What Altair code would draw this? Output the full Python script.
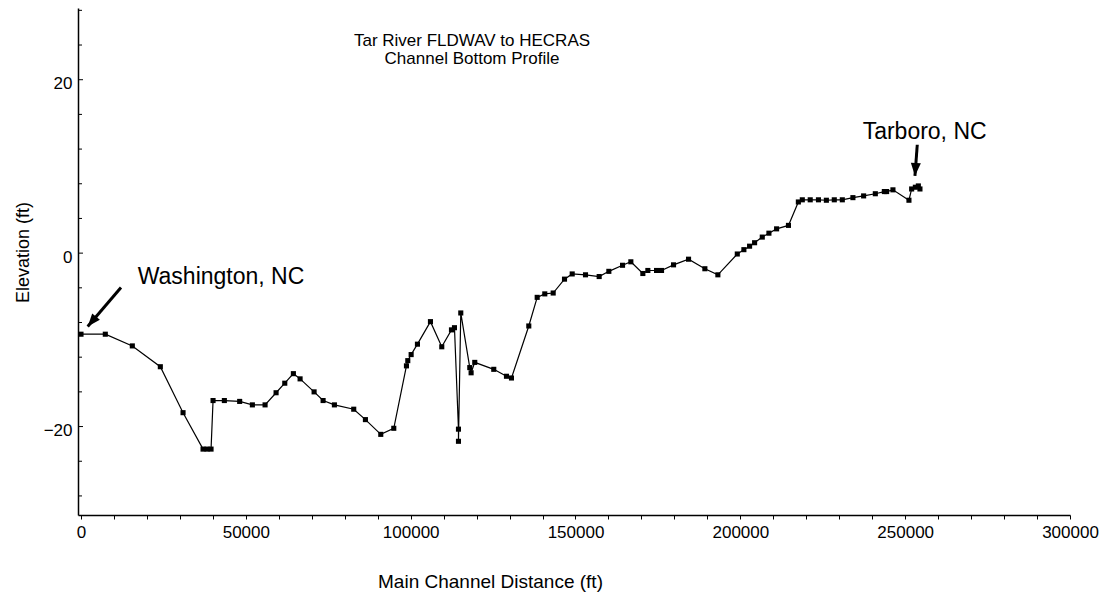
import altair as alt
import pandas as pd

# Channel bottom profile, Tar River (FLDWAV cross sections carried into HEC-RAS)
distance_ft = [
    0, 7374, 15568, 24065, 30954, 37022, 38236, 39450, 40057, 43487,
    48130, 51984, 55837, 59175, 61810, 64425, 66459, 70707, 73438, 76869,
    82729, 86275, 90930, 94877, 98720, 99125, 100145, 102056, 106001, 109433,
    112377, 113287, 114501, 114501, 115199, 117930, 118335, 119442, 125208, 129062,
    130580, 135830, 138379, 140683, 143232, 146664, 149001, 153034, 157182, 160115,
    164271, 166788, 170429, 171946, 174579, 176097, 179738, 184290, 189243, 193187,
    199077, 201078, 202807, 204325, 206655, 208670, 211000, 214600, 217600, 218800,
    221200, 223700, 226100, 228500, 230935, 234152, 237399, 240949, 243680, 244378,
    246292, 251147, 251967, 253090, 254000, 254486,
]
elevation_ft = [
    -9.35, -9.35, -10.7, -13.1, -18.4, -22.6, -22.6, -22.6, -17.0, -17.0,
    -17.1, -17.5, -17.5, -16.1, -15.0, -13.9, -14.5, -16.0, -17.0, -17.5,
    -18.0, -19.2, -20.9, -20.2, -13.0, -12.4, -11.7, -10.5, -7.9, -10.8,
    -8.85, -8.6, -20.3, -21.7, -6.9, -13.2, -13.8, -12.6, -13.4, -14.2,
    -14.4, -8.4, -5.1, -4.7, -4.6, -3.0, -2.4, -2.5, -2.7, -2.1,
    -1.4, -1.0, -2.35, -2.0, -2.0, -2.0, -1.35, -0.7, -1.8, -2.5,
    -0.1, 0.4, 0.8, 1.2, 1.85, 2.3, 2.8, 3.2, 5.9, 6.15,
    6.15, 6.15, 6.1, 6.15, 6.15, 6.4, 6.6, 6.85, 7.1, 7.1,
    7.3, 6.1, 7.4, 7.6, 7.75, 7.4,
]

# Axis ticks
x_tick_values = list(range(0, 300001, 10000))
y_major_ticks = [-20, 0, 20]
y_minor_ticks = [-28, -24, -16, -12, -8, -4, 4, 8, 12, 16, 24, 28]

# Place-name callouts (data units)
place_names = ["Washington, NC", "Tarboro, NC"]
place_label_x = [17200, 237100]
place_label_y = [-2.7, 14.0]
arrow_start_x = [12130, 253670]
arrow_start_y = [-3.97, 12.5]
arrow_tip_x = [2030, 252970]
arrow_tip_y = [-8.47, 8.9]

title_lines = ["Tar River FLDWAV to HECRAS", "Channel Bottom Profile"]

FONT = "Liberation Sans"

profile = pd.DataFrame({
    "dist": distance_ft,
    "elev": elevation_ft,
    "seq": list(range(len(distance_ft))),
})
places = pd.DataFrame({
    "name": place_names,
    "lx": place_label_x, "ly": place_label_y,
    "ax": arrow_start_x, "ay": arrow_start_y,
    "tx": arrow_tip_x, "ty": arrow_tip_y,
})
major_df = pd.DataFrame({"v": y_major_ticks})
minor_df = pd.DataFrame({"v": y_minor_ticks})

x_scale = alt.Scale(domain=[-910, 300000], nice=False, zero=False)
y_scale = alt.Scale(domain=[-30.2, 28.27], nice=False, zero=False)

x_axis = alt.Axis(
    values=x_tick_values,
    labelExpr="datum.value % 50000 === 0 ? format(datum.value, 'd') : ''",
    labelOverlap=False,
    labelFlush=False,
    tickSize=4,
    labelPadding=5,
    labelFontSize=17,
    title="Main Channel Distance (ft)",
    titleFontSize=19,
    titleX=412,
    titleY=57,
    titleAlign="center",
    titleBaseline="top",
)
y_axis = alt.Axis(
    values=y_major_ticks,
    ticks=False,
    tickSize=0,
    labelPadding=6,
    labelOffset=4,
    labelFlush=False,
    labelFontSize=17,
    title="Elevation (ft)",
    titleFontSize=18,
    titleX=-46,
    titleY=244,
    titleAngle=270,
    titleAlign="center",
    titleBaseline="bottom",
)


def xq(field):
    return alt.X(field, type="quantitative", scale=x_scale, axis=x_axis)


def yq(field):
    return alt.Y(field, type="quantitative", scale=y_scale, axis=y_axis)


line = alt.Chart(profile).mark_line(color="black", strokeWidth=1.2).encode(
    x=xq("dist"), y=yq("elev"), order="seq:Q",
)
points = alt.Chart(profile).mark_point(
    shape="square", filled=True, size=26, color="black", opacity=1
).encode(x=xq("dist"), y=yq("elev"))

# y-axis ticks drawn on the inside of the axis line
major_ticks = alt.Chart(major_df).mark_rule(color="black", strokeWidth=1).encode(
    y=yq("v"), x=alt.value(0), x2=alt.value(5),
)
minor_ticks = alt.Chart(minor_df).mark_rule(color="black", strokeWidth=1).encode(
    y=yq("v"), x=alt.value(0), x2=alt.value(4),
)

labels = alt.Chart(places).mark_text(
    align="left", baseline="middle", font=FONT, fontSize=23, color="black"
).encode(x=xq("lx"), y=yq("ly"), text="name:N")

arrow_shafts = alt.Chart(places).mark_rule(color="black", strokeWidth=3).encode(
    x=xq("ax"), y=yq("ay"), x2="tx:Q", y2="ty:Q",
)

ARROW_HEAD = "M0,0L0.5,1.3L-0.5,1.3Z"
heads = []
for name, heading in zip(place_names, [220, 184]):
    heads.append(
        alt.Chart(places).transform_filter(alt.datum.name == name).mark_point(
            shape=ARROW_HEAD, filled=True, size=400, color="black",
            opacity=1, angle=heading, strokeWidth=0,
        ).encode(x=xq("tx"), y=yq("ty"))
    )

title_text = alt.Chart(pd.DataFrame({"k": [0]})).mark_text(
    text=title_lines, align="center", baseline="top", font=FONT,
    fontSize=17, lineHeight=17.5, color="black",
).encode(x=alt.value(394), y=alt.value(25))

chart = alt.layer(
    line, points, major_ticks, minor_ticks, arrow_shafts, *heads, labels, title_text
).properties(
    width=992,
    height=507,
    autosize=alt.AutoSizeParams(type="none"),
    padding={"left": 78, "top": 8, "right": 43, "bottom": 83},
    background="white",
).configure_view(
    stroke=None
).configure_axis(
    grid=False,
    labelFont=FONT,
    titleFont=FONT,
    titleFontWeight="normal",
    labelColor="black",
    titleColor="black",
    domainColor="black",
    tickColor="black",
    domainWidth=1.5,
)

chart.save("out.html", embed_options={"renderer": "svg", "actions": False})
